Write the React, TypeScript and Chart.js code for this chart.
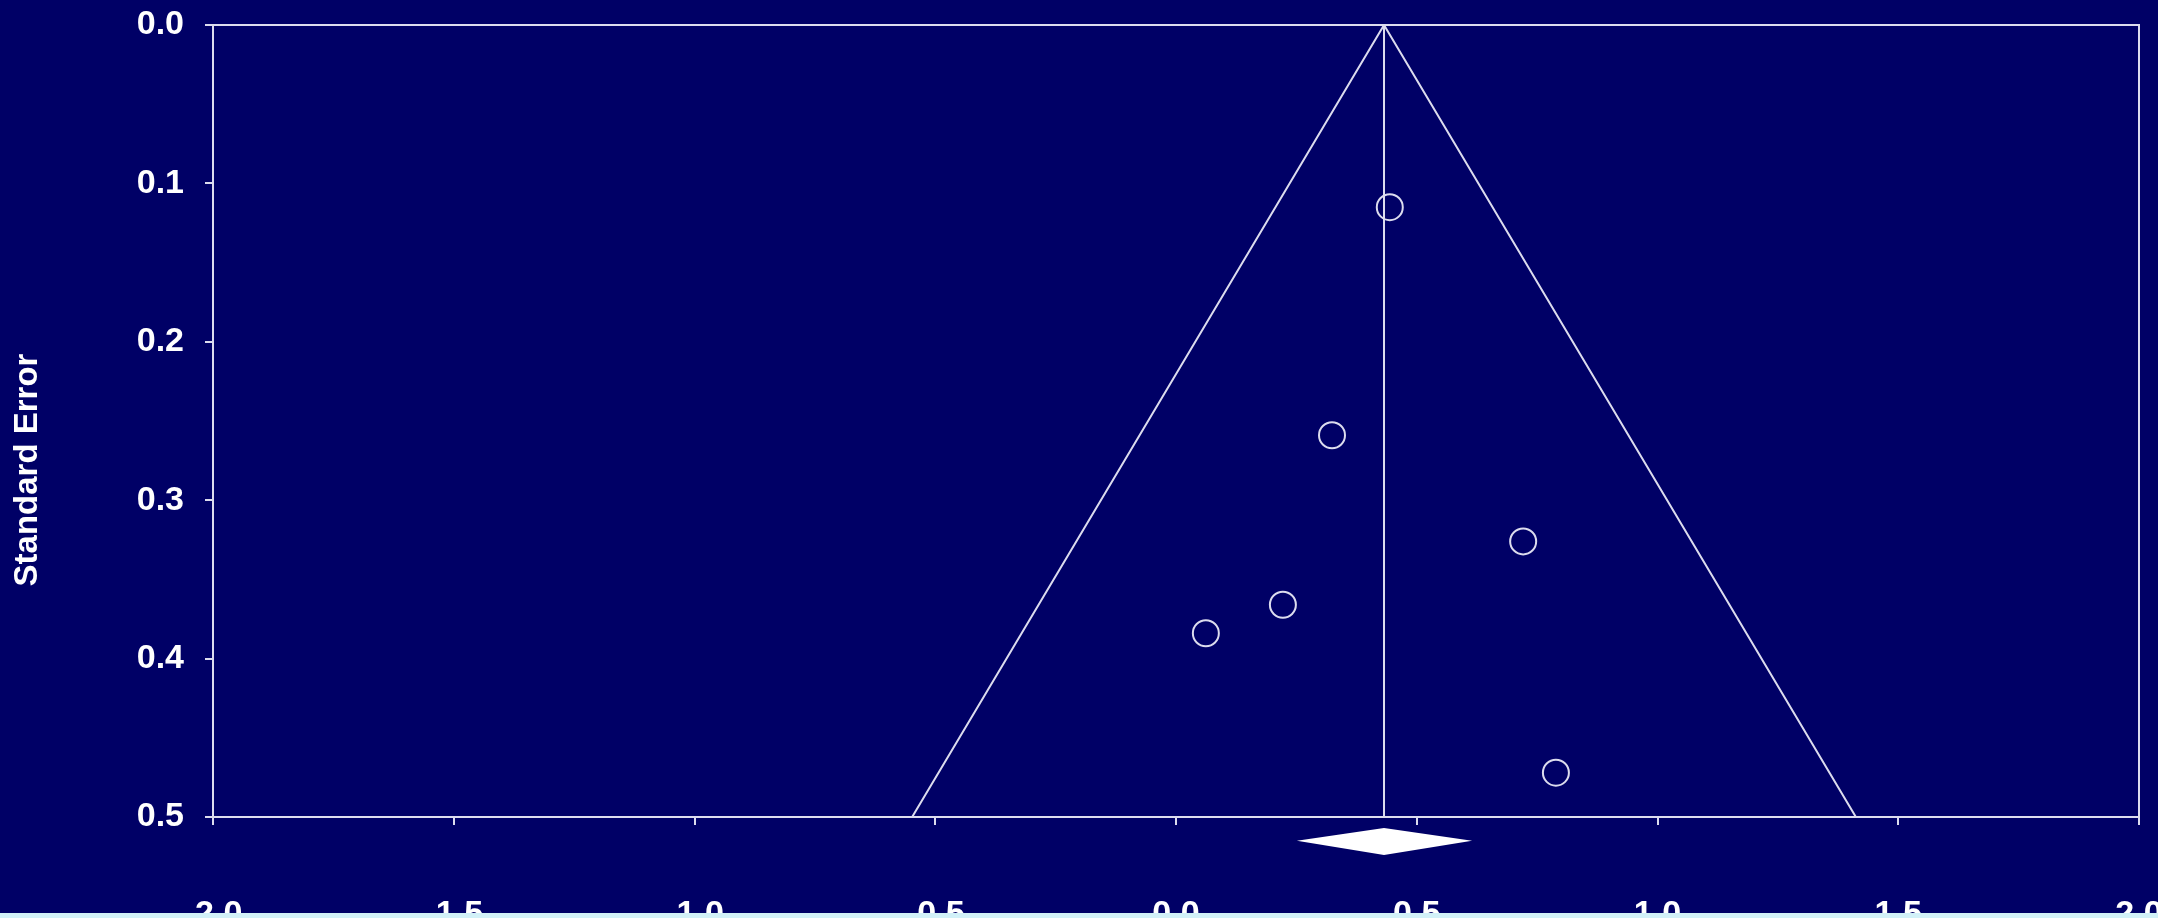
import React, { useEffect, useRef } from "react";
import { Chart, registerables } from "chart.js";

Chart.register(...registerables);

// Study estimates (effect size) and their standard errors
const studyEffect = [0.444, 0.324, 0.721, 0.222, 0.062, 0.789];
const studySE = [0.115, 0.259, 0.326, 0.366, 0.384, 0.472];

// Pooled estimate and 95% pseudo-confidence funnel
const funnelEffect = [-0.548, 0.432, 1.412];
const funnelSE = [0.5, 0, 0.5];
const pooledLineEffect = [0.432, 0.432];
const pooledLineSE = [0, 0.5];

// Summary diamond (drawn just below the axis)
const diamondEffect = [0.251, 0.432, 0.615, 0.432];
const diamondSE = [0.515, 0.507, 0.515, 0.524];

// Axis ticks
const xTickValues = [-2, -1.5, -1, -0.5, 0, 0.5, 1, 1.5, 2];
const yTickValues = [0, 0.1, 0.2, 0.3, 0.4, 0.5];
const yAxisTitle = "Standard Error";

const BG = "#000066";
const LINE = "#dcdcee";
const FONT = '"Liberation Sans", Arial, sans-serif';

const extrasPlugin = {
  id: "funnelExtras",
  afterDatasetsDraw(chart: any) {
    const { ctx, chartArea: a, scales } = chart;
    const x = scales.x;
    const y = scales.y;
    ctx.save();
    // plot frame
    ctx.strokeStyle = LINE;
    ctx.lineWidth = 2;
    ctx.strokeRect(a.left, a.top, a.right - a.left, a.bottom - a.top);
    // summary diamond
    ctx.beginPath();
    diamondEffect.forEach((v, i) => {
      const px = x.getPixelForValue(v);
      const py = y.getPixelForValue(diamondSE[i]);
      if (i === 0) ctx.moveTo(px, py);
      else ctx.lineTo(px, py);
    });
    ctx.closePath();
    ctx.fillStyle = "#ffffff";
    ctx.fill();
    // y axis title (centred on the canvas height)
    ctx.translate(28, chart.height / 2);
    ctx.rotate(-Math.PI / 2);
    ctx.font = `bold 33px ${FONT}`;
    ctx.fillStyle = "#ffffff";
    ctx.textAlign = "center";
    ctx.textBaseline = "middle";
    ctx.fillText(yAxisTitle, 0, 0);
    ctx.restore();
  },
};

export default function App() {
  const ref = useRef<HTMLCanvasElement | null>(null);

  useEffect(() => {
    document.body.style.margin = "0";
    document.body.style.background = "#d2f1f8";
    const canvas = ref.current;
    if (!canvas) return;

    const chart = new Chart(canvas, {
      type: "scatter",
      data: {
        datasets: [
          {
            type: "line",
            label: "Funnel",
            data: funnelEffect.map((v, i) => ({ x: v, y: funnelSE[i] })),
            borderColor: LINE,
            borderWidth: 2,
            pointRadius: 0,
            fill: false,
            tension: 0,
          } as any,
          {
            type: "line",
            label: "Pooled",
            data: pooledLineEffect.map((v, i) => ({ x: v, y: pooledLineSE[i] })),
            borderColor: LINE,
            borderWidth: 2,
            pointRadius: 0,
            fill: false,
          } as any,
          {
            type: "scatter",
            label: "Studies",
            data: studyEffect.map((v, i) => ({ x: v, y: studySE[i] })),
            pointStyle: "circle",
            pointRadius: 13,
            pointBorderWidth: 2,
            borderColor: LINE,
            backgroundColor: "rgba(0,0,0,0)",
          } as any,
        ],
      },
      options: {
        animation: false,
        responsive: false,
        maintainAspectRatio: false,
        events: [],
        layout: { padding: { top: 25, right: 19, left: 0, bottom: 0 } },
        plugins: {
          legend: { display: false },
          tooltip: { enabled: false },
        },
        scales: {
          x: {
            type: "linear",
            position: "bottom",
            min: -2,
            max: 2,
            afterBuildTicks: (scale: any) => {
              scale.ticks = xTickValues.map((v) => ({ value: v }));
            },
            afterFit: (scale: any) => {
              scale.height = 123;
              scale.paddingLeft = 0;
              scale.paddingRight = 0;
            },
            border: { display: false },
            grid: {
              display: true,
              drawOnChartArea: false,
              drawTicks: true,
              tickLength: 8,
              color: LINE,
              lineWidth: 2,
            },
            ticks: {
              color: "#ffffff",
              padding: 69,
              maxRotation: 0,
              autoSkip: false,
              font: { family: FONT, size: 34, weight: "bold" },
              callback: (v: any) => Number(v).toFixed(1),
            },
          },
          y: {
            type: "linear",
            position: "left",
            reverse: true,
            min: 0,
            max: 0.5,
            afterBuildTicks: (scale: any) => {
              scale.ticks = yTickValues.map((v) => ({ value: v }));
            },
            afterFit: (scale: any) => {
              scale.width = 213;
              scale.paddingTop = 0;
              scale.paddingBottom = 0;
            },
            border: { display: false },
            grid: {
              display: true,
              drawOnChartArea: false,
              drawTicks: true,
              tickLength: 8,
              color: LINE,
              lineWidth: 2,
            },
            ticks: {
              color: "#ffffff",
              padding: 21,
              autoSkip: false,
              font: { family: FONT, size: 34, weight: "bold" },
              callback: (v: any) => Number(v).toFixed(1),
            },
          },
        },
      } as any,
      plugins: [extrasPlugin],
    });

    return () => chart.destroy();
  }, []);

  return (
    <div
      style={{
        position: "fixed",
        left: 0,
        top: 0,
        width: 2158,
        height: 913,
        overflow: "hidden",
        background: BG,
      }}
    >
      <canvas ref={ref} width={2158} height={940} style={{ display: "block", width: 2158, height: 940 }} />
    </div>
  );
}
